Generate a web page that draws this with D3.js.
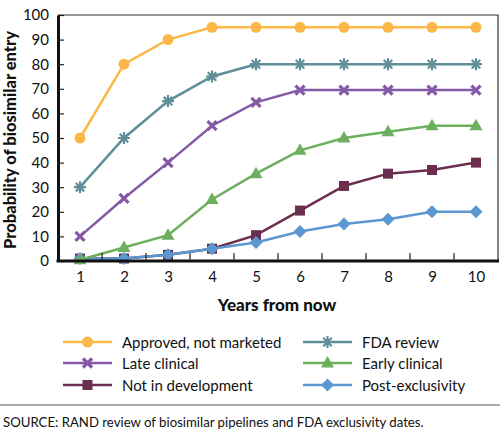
<!DOCTYPE html>
<html><head><meta charset="utf-8">
<script src="https://cdn.jsdelivr.net/npm/d3@7"></script>
<style>
body{margin:0;background:#fff;}
svg{display:block;font-family:Lato,"Open Sans",sans-serif;}
</style></head>
<body><svg id="c" width="500" height="431"></svg>
<script>
const years = [1,2,3,4,5,6,7,8,9,10];
const approved = [50,80,90,95,95,95,95,95,95,95];
const fdaReview = [30,50,65,75,80,80,80,80,80,80];
const lateClinical = [10,25.5,40,55,64.5,69.5,69.5,69.5,69.5,69.5];
const earlyClinical = [0.5,5.5,10.5,25,35.5,45,50,52.5,55,55];
const notInDev = [1,1,2.5,5,10.5,20.5,30.5,35.5,37,40];
const postExcl = [1,1,2.5,5,7.5,12,15,17,20,20];
const yTicks = [0,10,20,30,40,50,60,70,80,90,100];

const series = [
 {name:"Approved, not marketed", values:approved, color:"#FBB848", marker:"circle"},
 {name:"FDA review", values:fdaReview, color:"#5E8F98", marker:"asterisk"},
 {name:"Late clinical", values:lateClinical, color:"#845AA8", marker:"cross"},
 {name:"Early clinical", values:earlyClinical, color:"#6CB05E", marker:"triangle"},
 {name:"Not in development", values:notInDev, color:"#6C2E4E", marker:"square"},
 {name:"Post-exclusivity", values:postExcl, color:"#5B97D0", marker:"diamond"}
];
const drawOrder = [4,5,3,2,1,0];

const svg = d3.select("#c");
const L=58, R=498, T=15, B=261;
const x = d3.scaleLinear().domain([0.5,10.5]).range([L,R]);
const y = d3.scaleLinear().domain([0,100]).range([B,T]);

svg.append("path").attr("d",`M${L},${T}H${R}V${B}`).attr("fill","none").attr("stroke","#333").attr("stroke-width",1.2);

function marker(g, type, cx, cy, color){
  if(type==="circle") g.append("circle").attr("cx",cx).attr("cy",cy).attr("r",5.5).attr("fill",color);
  else if(type==="square") g.append("rect").attr("x",cx-5).attr("y",cy-5).attr("width",10).attr("height",10).attr("fill",color);
  else if(type==="diamond") g.append("path").attr("d",`M${cx},${cy-6.5}L${cx+6.5},${cy}L${cx},${cy+6.5}L${cx-6.5},${cy}Z`).attr("fill",color);
  else if(type==="triangle") g.append("path").attr("d",`M${cx},${cy-7}L${cx+6.5},${cy+4.5}L${cx-6.5},${cy+4.5}Z`).attr("fill",color);
  else if(type==="asterisk"){
    const r=6;
    let d="";
    for(let i=0;i<4;i++){const a=i*Math.PI/4; d+=`M${cx-r*Math.cos(a)},${cy-r*Math.sin(a)}L${cx+r*Math.cos(a)},${cy+r*Math.sin(a)}`;}
    g.append("path").attr("d",d).attr("stroke",color).attr("stroke-width",2.2).attr("fill","none");
  } else if(type==="cross"){
    const r=4.5;
    g.append("path").attr("d",`M${cx-r},${cy-r}L${cx+r},${cy+r}M${cx-r},${cy+r}L${cx+r},${cy-r}`).attr("stroke",color).attr("stroke-width",3.2).attr("fill","none");
  }
}

const line = d3.line().x((d,i)=>x(years[i])).y(d=>y(d));
drawOrder.forEach(k=>{
  const s=series[k];
  const g=svg.append("g");
  g.append("path").attr("d",line(s.values)).attr("fill","none").attr("stroke",s.color).attr("stroke-width",2.5);
  s.values.forEach((v,i)=>marker(g,s.marker,x(years[i]),y(v),s.color));
});

const yAxis = d3.axisLeft(y).tickValues(yTicks).tickSizeInner(-6).tickSizeOuter(0).tickPadding(9);
const gy = svg.append("g").attr("transform",`translate(${L},0)`).call(yAxis);
gy.select(".domain").attr("stroke","#111").attr("stroke-width",3);
gy.selectAll(".tick line").attr("stroke","#222").attr("stroke-width",1.2);
gy.selectAll("text").attr("font-size",15).attr("fill","#111").attr("font-family","Lato,sans-serif");

const xAxis = d3.axisBottom(x).tickValues(years).tickSize(0).tickPadding(10);
const gx = svg.append("g").attr("transform",`translate(0,${B})`).call(xAxis);
gx.select(".domain").remove();
gx.selectAll("text").attr("font-size",15).attr("fill","#111").attr("font-family","Lato,sans-serif");
svg.append("line").attr("x1",L-1.5).attr("x2",R+1).attr("y1",B).attr("y2",B).attr("stroke","#111").attr("stroke-width",3);
const halfTicks = d3.range(1.5,10.5,1);
svg.append("g").selectAll("line").data(halfTicks).join("line")
  .attr("x1",d=>x(d)).attr("x2",d=>x(d)).attr("y1",B).attr("y2",B-8)
  .attr("stroke","#222").attr("stroke-width",1.2);

svg.append("text").attr("x",277).attr("y",311).attr("text-anchor","middle")
  .attr("font-size",17).attr("font-weight",900).attr("fill","#111").text("Years from now");
svg.append("text").attr("transform","translate(16,140) rotate(-90)").attr("text-anchor","middle")
  .attr("font-size",16.5).attr("font-weight",900).attr("fill","#111").text("Probability of biosimilar entry");

const legPos = [[63,342],[303,342],[63,363],[303,363],[63,385],[303,385]];
series.forEach((s,i)=>{
  const [lx,ly]=legPos[i];
  const g=svg.append("g");
  g.append("line").attr("x1",lx).attr("x2",lx+49).attr("y1",ly).attr("y2",ly).attr("stroke",s.color).attr("stroke-width",2.5);
  marker(g,s.marker,lx+24.5,ly,s.color);
  g.append("text").attr("x",lx+59).attr("y",ly+5.5).attr("font-size",15).attr("fill","#111").text(s.name);
});

svg.append("line").attr("x1",0).attr("x2",500).attr("y1",405).attr("y2",405).attr("stroke","#aaa").attr("stroke-width",2);
svg.append("text").attr("x",3).attr("y",427).attr("font-size",13.2).attr("fill","#111")
  .text("SOURCE: RAND review of biosimilar pipelines and FDA exclusivity dates.");
</script></body></html>
